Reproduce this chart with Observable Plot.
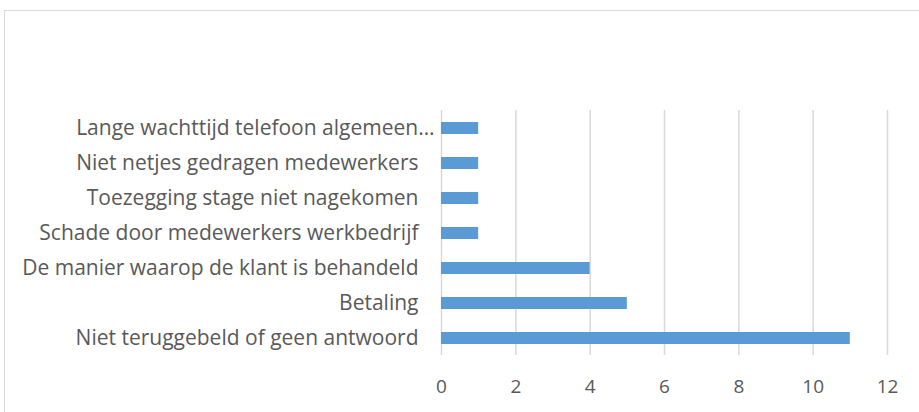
<!DOCTYPE html>
<html>
<head>
<meta charset="utf-8">
<script src="https://cdn.jsdelivr.net/npm/d3@7"></script>
<script src="https://cdn.jsdelivr.net/npm/@observablehq/plot@0.6"></script>
<style>
  html, body { margin: 0; padding: 0; background: #fff; overflow: hidden; }
  #wrap { position: relative; width: 919px; height: 412px; }
  #frame { position: absolute; left: 4px; top: 10px; width: 940px; height: 430px; border: 1px solid #d9d9d9; box-sizing: border-box; }
  #chart { position: absolute; left: 0; top: 0; }
</style>
</head>
<body>
<div id="wrap"><div id="frame"></div><div id="chart"></div></div>
<script>
const categories = [
  "Lange wachttijd telefoon algemeen…",
  "Niet netjes gedragen medewerkers",
  "Toezegging stage niet nagekomen",
  "Schade door medewerkers werkbedrijf",
  "De manier waarop de klant is behandeld",
  "Betaling",
  "Niet teruggebeld of geen antwoord"
];
const values = [1, 1, 1, 1, 4, 5, 11];
const xTicks = [0, 2, 4, 6, 8, 10, 12];

const data = categories.map((c, i) => ({category: c, value: values[i]}));
const truncated = data.filter(d => d.category.endsWith("…"));
const normal = data.filter(d => !d.category.endsWith("…"));

const font = "'Open Sans', sans-serif";
const plot = Plot.plot({
  width: 919,
  height: 412,
  marginLeft: 441,
  marginRight: 32,
  marginTop: 110,
  marginBottom: 57,
  style: {fontFamily: font, fontSize: "19px", color: "#595959", background: "transparent", overflow: "visible"},
  x: {domain: [0, 12], ticks: xTicks, label: null},
  y: {domain: categories, paddingInner: 0.66, paddingOuter: 0.31, axis: null},
  marks: [
    Plot.ruleX(xTicks, {stroke: "#d9d9d9", strokeWidth: 1.5}),
    Plot.barX(data, {y: "category", x: "value", fill: "#5B9BD5"}),
    Plot.axisX({ticks: xTicks, tickSize: 0, tickPadding: 24, label: null, fill: "#595959", fontSize: 19, fontFamily: font}),
    Plot.text(normal, {y: "category", x: 0, text: "category", textAnchor: "end", dx: -23, fill: "#595959", fontSize: 21, fontFamily: font}),
    Plot.text(truncated, {y: "category", x: 0, text: "category", textAnchor: "end", dx: -7, fill: "#595959", fontSize: 21, fontFamily: font})
  ]
});
document.getElementById("chart").appendChild(plot);
</script>
</body>
</html>
